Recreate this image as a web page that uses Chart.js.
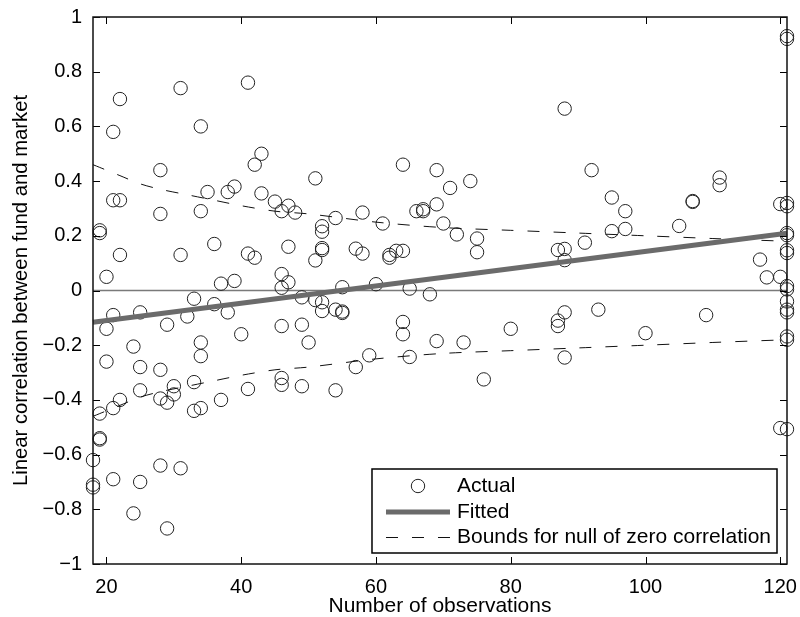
<!DOCTYPE html>
<html><head><meta charset="utf-8">
<script src="https://cdn.jsdelivr.net/npm/chart.js@4/dist/chart.umd.min.js"></script>
<style>html,body{margin:0;padding:0;background:#fff;}canvas{display:block;}</style>
</head><body>
<canvas id="c" width="800" height="617"></canvas>
<script>
// ---- data ----
const obsX = [
  22,21,31,41,34,28,43,42,35,38,39,43,45,51,21,22,28,34,46,47,48,19,19,22,31,36,41,42,47,51,
  20,37,39,46,47,46,33,36,38,32,25,21,20,29,40,49,51,46,49,50,34,34,24,20,25,28,25,30,33,41,
  46,46,49,19,21,22,28,29,30,33,34,37,19,19,18,18,18,21,25,28,31,24,29,
  64,69,71,74,58,54,52,52,52,52,57,58,61,66,67,67,69,70,72,75,75,62,62,63,64,55,60,65,68,52,
  52,54,55,55,64,64,69,73,80,59,65,57,76,54,
  88,92,111,111,121,121,95,97,107,107,120,121,121,95,97,105,91,87,88,88,121,121,121,121,117,118,
  120,121,121,121,121,121,88,87,87,93,109,100,121,121,88,120,121
];
const corrY = [
  0.70,0.58,0.74,0.76,0.60,0.44,0.50,0.46,0.36,0.36,0.38,0.355,0.325,0.41,0.33,0.33,0.28,0.29,0.29,0.31,0.285,0.22,0.21,0.13,0.13,0.17,0.135,0.12,0.16,0.11,
  0.05,0.025,0.035,0.06,0.03,0.01,-0.03,-0.05,-0.08,-0.095,-0.08,-0.09,-0.14,-0.125,-0.16,-0.025,-0.035,-0.13,-0.125,-0.19,-0.19,-0.24,-0.205,-0.26,-0.28,-0.29,-0.365,-0.35,-0.335,-0.36,
  -0.32,-0.345,-0.35,-0.45,-0.43,-0.40,-0.395,-0.41,-0.38,-0.44,-0.43,-0.40,-0.54,-0.545,-0.62,-0.71,-0.72,-0.69,-0.70,-0.64,-0.65,-0.815,-0.87,
  0.46,0.44,0.375,0.40,0.285,0.265,0.235,0.215,0.155,0.148,0.153,0.135,0.245,0.29,0.29,0.297,0.315,0.245,0.205,0.19,0.14,0.13,0.12,0.145,0.145,0.012,0.023,0.007,-0.014,-0.043,
  -0.075,-0.07,-0.077,-0.082,-0.115,-0.16,-0.185,-0.19,-0.14,-0.237,-0.243,-0.28,-0.325,-0.365,
  0.665,0.44,0.413,0.385,0.93,0.92,0.34,0.29,0.324,0.327,0.316,0.32,0.308,0.217,0.225,0.236,0.175,0.148,0.152,0.111,0.21,0.202,0.147,0.137,0.113,0.048,
  0.05,0.016,0.004,-0.04,-0.07,-0.08,-0.08,-0.11,-0.13,-0.07,-0.09,-0.156,-0.168,-0.18,-0.245,-0.503,-0.507
];
const fittedX = [18, 121];
const fittedY = [-0.116, 0.209];
const boundX = [18, 19, 20, 22, 25, 28, 32, 36, 40, 45, 50, 60, 70, 80, 90, 100, 110, 121];
const boundUpper = [0.46, 0.45, 0.44, 0.42, 0.39, 0.37, 0.35, 0.33, 0.31, 0.29, 0.28, 0.25, 0.23, 0.22, 0.21, 0.20, 0.19, 0.18];
const boundLower = [-0.46, -0.45, -0.44, -0.42, -0.39, -0.37, -0.35, -0.33, -0.31, -0.29, -0.28, -0.25, -0.23, -0.22, -0.21, -0.20, -0.19, -0.18];
const zeroX = [18, 121];
const zeroY = [0, 0];
const xTickValues = [20, 40, 60, 80, 100, 120];
const yTickValues = [-1, -0.8, -0.6, -0.4, -0.2, 0, 0.2, 0.4, 0.6, 0.8, 1];
const seriesLabels = ['Actual', 'Fitted', 'Bounds for null of zero correlation'];
const xTitle = 'Number of observations';
const yTitle = 'Linear correlation between fund and market';

// ---- build ----
const FONT = 'Liberation Sans, Arial, Helvetica, sans-serif';
const pts = (xs, ys) => xs.map((v, i) => ({x: v, y: ys[i]}));
const DASH = [12, 14];

const datasets = [
  {label: seriesLabels[1], data: pts(fittedX, fittedY), showLine: true, borderColor: '#6b6b6b', borderWidth: 5, pointRadius: 0, order: 0, clip: false},
  {label: seriesLabels[2], data: pts(boundX, boundUpper), showLine: true, borderColor: '#111', borderWidth: 1, borderDash: DASH, pointRadius: 0, order: 1, tension: 0.3},
  {label: '', data: pts(boundX, boundLower), showLine: true, borderColor: '#111', borderWidth: 1, borderDash: DASH, pointRadius: 0, order: 1, tension: 0.3},
  {label: seriesLabels[0], data: pts(obsX, corrY), showLine: false, pointStyle: 'circle', pointRadius: 6.7, pointHoverRadius: 6.7, borderColor: '#222', backgroundColor: 'rgba(0,0,0,0)', pointBorderWidth: 1, order: 2, clip: false},
  {label: '', data: pts(zeroX, zeroY), showLine: true, borderColor: '#7a7a7a', borderWidth: 1.5, pointRadius: 0, order: 3}
];

const framePlugin = {
  id: 'frame',
  afterDraw(chart) {
    const {ctx, chartArea: {left, right, top, bottom}, scales: {x, y}} = chart;
    ctx.save();
    ctx.strokeStyle = '#000';
    ctx.lineWidth = 1;
    const tl = 7;
    ctx.beginPath();
    xTickValues.forEach(v => {
      const px = Math.round(x.getPixelForValue(v)) + 0.5;
      ctx.moveTo(px, bottom); ctx.lineTo(px, bottom - tl);
      ctx.moveTo(px, top); ctx.lineTo(px, top + tl);
    });
    yTickValues.forEach(v => {
      const py = Math.round(y.getPixelForValue(v)) + 0.5;
      ctx.moveTo(left, py); ctx.lineTo(left + tl, py);
      ctx.moveTo(right, py); ctx.lineTo(right - tl, py);
    });
    ctx.stroke();
    ctx.lineWidth = 1.5;
    ctx.strokeStyle = '#111';
    ctx.strokeRect(left, top, right - left, bottom - top);

    // legend box (bottom-right inside plot)
    ctx.font = '21px ' + FONT;
    let tw = 0;
    seriesLabels.forEach(s => { tw = Math.max(tw, ctx.measureText(s).width); });
    const bw = 85 + tw + 6, bh = 84;
    const bx = right - 10 - bw, by = bottom - 11 - bh;
    ctx.fillStyle = '#fff';
    ctx.fillRect(bx, by, bw, bh);
    ctx.lineWidth = 1.5;
    ctx.strokeStyle = '#000';
    ctx.strokeRect(bx, by, bw, bh);
    const rows = [by + 17, by + 43, by + 68];
    ctx.lineWidth = 1; ctx.strokeStyle = '#222';
    ctx.beginPath(); ctx.arc(bx + 46, rows[0], 6.7, 0, Math.PI * 2); ctx.stroke();
    ctx.lineWidth = 5; ctx.strokeStyle = '#6b6b6b';
    ctx.beginPath(); ctx.moveTo(bx + 14, rows[1]); ctx.lineTo(bx + 78, rows[1]); ctx.stroke();
    ctx.lineWidth = 1; ctx.strokeStyle = '#111'; ctx.setLineDash(DASH);
    ctx.beginPath(); ctx.moveTo(bx + 14, rows[2] + 0.5); ctx.lineTo(bx + 78, rows[2] + 0.5); ctx.stroke();
    ctx.setLineDash([]);
    ctx.fillStyle = '#000'; ctx.textBaseline = 'middle'; ctx.textAlign = 'left';
    seriesLabels.forEach((s, i) => ctx.fillText(s, bx + 85, rows[i]));
    ctx.restore();
  }
};

const fmt = v => v === 0 ? '0' : (v < 0 ? '\u2212' : '') + String(Math.abs(v));
const noPad = s => { s.paddingTop = 0; s.paddingBottom = 0; s.paddingLeft = 0; s.paddingRight = 0; };

new Chart(document.getElementById('c'), {
  type: 'scatter',
  data: {datasets},
  plugins: [framePlugin],
  options: {
    responsive: false,
    animation: false,
    devicePixelRatio: 1,
    layout: {padding: {left: 0, right: 13, top: 17, bottom: 0}},
    plugins: {legend: {display: false}, tooltip: {enabled: false}},
    scales: {
      x: {
        type: 'linear', min: 18, max: 121,
        afterBuildTicks: s => { s.ticks = xTickValues.map(v => ({value: v})); },
        afterFit: s => { s.height = 53; noPad(s); },
        grid: {display: false, drawTicks: false}, border: {display: false},
        ticks: {font: {family: FONT, size: 20}, color: '#000', padding: 11, maxRotation: 0, autoSkip: false},
        title: {display: true, text: xTitle, font: {family: FONT, size: 21, lineHeight: 1.0}, color: '#000', padding: {top: 0, bottom: 0}}
      },
      y: {
        type: 'linear', min: -1, max: 1,
        afterBuildTicks: s => { s.ticks = yTickValues.map(v => ({value: v})); },
        afterFit: s => { s.width = 93; noPad(s); },
        grid: {display: false, drawTicks: false}, border: {display: false},
        ticks: {font: {family: FONT, size: 20}, color: '#000', padding: 11, autoSkip: false, callback: v => fmt(v)},
        title: {display: true, text: yTitle, font: {family: FONT, size: 20.3, lineHeight: 1.1}, color: '#000', padding: {top: 10, bottom: 0}}
      }
    }
  }
});
</script>
</body></html>
